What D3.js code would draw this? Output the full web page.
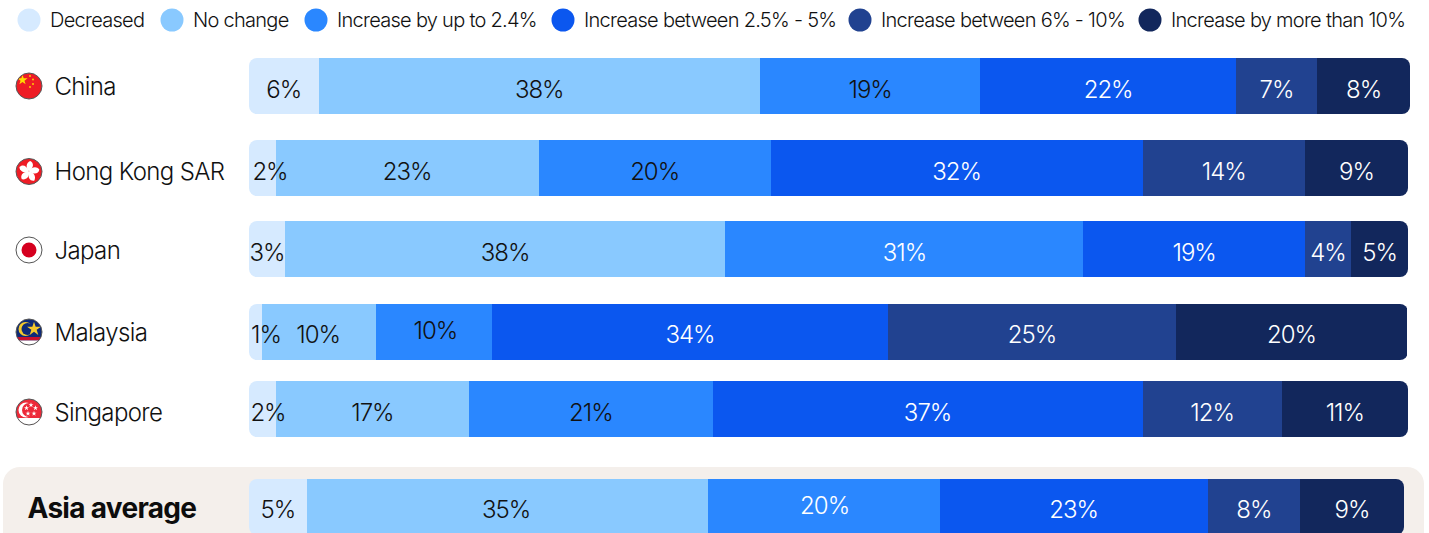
<!DOCTYPE html>
<html><head><meta charset="utf-8">
<script src="https://cdnjs.cloudflare.com/ajax/libs/d3/7.9.0/d3.min.js"></script>
<style>html,body{margin:0;padding:0;background:#fff;overflow:hidden}svg{display:block}
text{font-family:Inter,"Noto Sans",sans-serif}</style></head><body><div id="c"></div>
<script>
const seriesNames=["Decreased","No change","Increase by up to 2.4%","Increase between 2.5% - 5%","Increase between 6% - 10%","Increase by more than 10%"];
const categories=["China","Hong Kong SAR","Japan","Malaysia","Singapore","Asia average"];
const china=[6,38,19,22,7,8];
const hongKong=[2.3,22.7,20,32.1,14,8.9];
const japan=[3.1,38,30.9,19.1,4,4.9];
const malaysia=[1.1,9.9,10,34.1,24.9,19.9];
const singapore=[2.3,16.7,21,37.1,12,10.9];
const asiaAverage=[5,34.7,20.1,23.2,8,9];
const rows=[china,hongKong,japan,malaysia,singapore,asiaAverage];
const colors=["#d6eaff","#89c9ff","#2a87ff","#0b57ef","#214290","#12275c"];

const W=1429,H=533,barH=56,left=249;
const rowTop=d3.scaleOrdinal().domain(categories).range([58,140,221,304,381,479]);
const rowEnd=d3.scaleOrdinal().domain(categories).range([1410,1408,1408,1408,1408,1404]);
const flagY=d3.scaleOrdinal().domain(categories).range([86,171.5,250,332,412,0]);
const labelBase=d3.scaleOrdinal().domain(categories).range([40,40,40,39,40,39]);
const legendX=d3.scaleOrdinal().domain(seriesNames).range([29,172,316,563,860,1150]);
// individual label nudges seen in the reference: [row, segment, dx, dy]
const nudges=[[1,0,3,0],[3,2,1,-4],[5,2,1,-4],[5,1,-1,0],[3,0,-1,0],[4,0,1,0],[3,1,-1,0]];
// rows whose mid-blue label sits in white
const whiteMid=[2,5];
const svg=d3.select("#c").append("svg").attr("width",W).attr("height",H);
const defs=svg.append("defs");

svg.append("rect").attr("x",3).attr("y",467).attr("width",1421).attr("height",100).attr("rx",17).attr("fill","#f4efeb");

const lg=svg.append("g").selectAll("g").data(seriesNames).join("g").attr("transform",d=>`translate(${legendX(d)},20)`);
lg.append("circle").attr("r",11.5).attr("fill",(d,i)=>colors[i]);
lg.append("text").attr("x",21).attr("y",7).attr("font-size",20).attr("font-weight",300).attr("letter-spacing",-0.72).attr("fill","#111").text(d=>d);

categories.forEach((cat,ri)=>{
  const vals=rows[ri];
  const x=d3.scaleLinear().domain([0,100]).range([left,rowEnd(cat)]);
  const stack=d3.cumsum(vals);
  const top=rowTop(cat);
  const id="clip"+ri;
  const nudge=i=>nudges.find(n=>n[0]===ri&&n[1]===i)||[0,0,0,0];
  const textColor=i=>i>=3||(i===2&&whiteMid.includes(ri))?"#fff":"#111";
  defs.append("clipPath").attr("id",id).append("rect").attr("x",left).attr("y",top).attr("width",rowEnd(cat)-left).attr("height",barH).attr("rx",8);
  const g=svg.append("g");
  const bars=g.append("g").attr("clip-path",`url(#${id})`);
  bars.selectAll("rect").data(vals).join("rect")
    .attr("x",(d,i)=>Math.round(x(i?stack[i-1]:0)))
    .attr("width",(d,i)=>Math.round(x(stack[i]))-Math.round(x(i?stack[i-1]:0)))
    .attr("y",top).attr("height",barH).attr("fill",(d,i)=>colors[i]).attr("shape-rendering","crispEdges");
  g.selectAll("text").data(vals).join("text")
    .attr("x",(d,i)=>Math.max((x(i?stack[i-1]:0)+x(stack[i]))/2,left+18)+nudge(i)[2])
    .attr("y",(d,i)=>top+labelBase(cat)+nudge(i)[3]).attr("text-anchor","middle").attr("font-size",24).attr("font-weight",300).attr("letter-spacing",-1)
    .attr("fill",(d,i)=>textColor(i)).text(d=>Math.round(d)+"%");
  if(ri<5){
    svg.append("text").attr("x",54.5).attr("y",flagY(cat)+8.5).attr("font-size",24).attr("font-weight",300).attr("letter-spacing",-0.62).attr("fill","#111").text(cat);
  } else {
    svg.append("text").attr("x",27.5).attr("y",518).attr("font-size",28).attr("font-weight",700).attr("letter-spacing",-0.7).attr("fill","#0d0d0d").text(cat);
  }
});

function base(cat,fill,stroke){
  const g=svg.append("g").attr("transform",`translate(29,${flagY(cat)})`);
  const cid="f"+cat.replace(/\s/g,"");
  defs.append("clipPath").attr("id",cid).append("circle").attr("r",13);
  const inner=g.append("g").attr("clip-path",`url(#${cid})`);
  inner.append("circle").attr("r",13).attr("fill",fill);
  g.inner=inner; g.ring=()=>g.append("circle").attr("r",13).attr("fill","none").attr("stroke",stroke||"#555").attr("stroke-width",1);
  return g;
}
const star=d3.symbol().type(d3.symbolStar);
{const g=base("China","#ee1c25");
 g.inner.append("path").attr("d",star.size(32)()).attr("transform","translate(-6.5,-6)").attr("fill","#ffde00");
 [[1,-10],[4,-6.5],[4,-2],[1,1]].forEach(p=>g.inner.append("circle").attr("cx",p[0]).attr("cy",p[1]).attr("r",0.9).attr("fill","#ffde00"));
 g.ring();}
{const g=base("Hong Kong SAR","#ee1c25");
 d3.range(5).forEach(i=>{
   const p=g.inner.append("g").attr("transform",`rotate(${i*72+12})`);
   p.append("path").attr("d","M0,0 C-4.5,-3 -4.5,-8 -1,-10.5 C3,-9.5 4.2,-5 0,0Z").attr("fill","#fff");
 });
 g.ring();}
{const g=base("Japan","#fff");
 g.inner.append("circle").attr("r",7.5).attr("fill","#d5001f");
 g.ring("#333");}
{const g=base("Malaysia","#0e2a78");
 g.inner.append("rect").attr("x",-13).attr("y",5).attr("width",26).attr("height",3.5).attr("fill","#c8102e");
 g.inner.append("rect").attr("x",-13).attr("y",8.5).attr("width",26).attr("height",5).attr("fill","#fff");
 g.inner.append("circle").attr("cx",-3.5).attr("cy",-3).attr("r",7).attr("fill","#f5c92c");
 g.inner.append("circle").attr("cx",-1.5).attr("cy",-3).attr("r",6).attr("fill","#0e2a78");
 g.inner.append("path").attr("d",d3.symbol().type(d3.symbolStar).size(60)()).attr("transform","translate(5,-3)").attr("fill","#f5c92c");
 g.ring("#333");}
{const g=base("Singapore","#ed2939");
 g.inner.append("rect").attr("x",-13).attr("y",6).attr("width",26).attr("height",7).attr("fill","#fff");
 g.inner.append("circle").attr("cx",-3).attr("cy",-2).attr("r",7.5).attr("fill","#fff");
 g.inner.append("circle").attr("cx",0).attr("cy",-2).attr("r",7).attr("fill","#ed2939");
 [[2,-7],[6.5,-4],[5,1.5],[-1,1.5],[-2.5,-4]].forEach(p=>g.inner.append("path").attr("d",star.size(8)()).attr("transform",`translate(${p[0]},${p[1]})`).attr("fill","#fff"));
 g.ring("#222");}
</script></body></html>
